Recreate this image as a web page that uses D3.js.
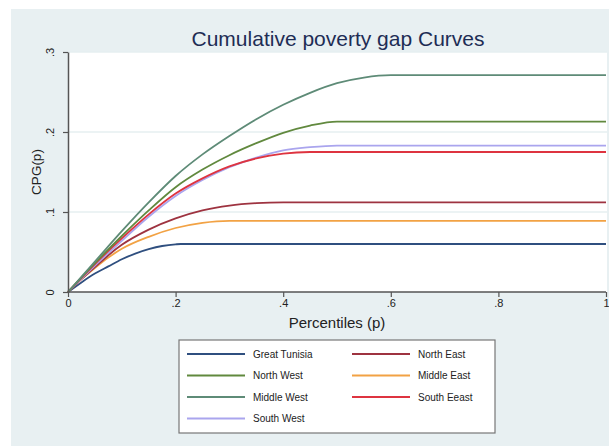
<!DOCTYPE html>
<html><head><meta charset="utf-8">
<script src="https://cdn.jsdelivr.net/npm/d3@7"></script>
<style>body{margin:0;background:#fff;}svg{display:block;font-family:"Liberation Sans",Arial,sans-serif;}</style>
</head><body>
<svg id="c" width="609" height="447"></svg>
<script>
const seriesNames = ["Great Tunisia","North East","North West","Middle East","Middle West","South Eeast","South West"];
const seriesColors = ["#2f4f7f","#9e3340","#61893e","#f2a244","#5e8b77","#de3440","#aaa5ee"];
const legendOrder = ["Great Tunisia","North East","North West","Middle East","Middle West","South Eeast","South West"];
const xTicks = [0,0.2,0.4,0.6,0.8,1];
const xTickLabels = ["0",".2",".4",".6",".8","1"];
const yTicks = [0,0.1,0.2,0.3];
const yTickLabels = ["0",".1",".2",".3"];

const pGreatTunisia = [0,0.025,0.05,0.075,0.1,0.125,0.15,0.175,0.2,0.21,1];
const vGreatTunisia = [0,0.012,0.023,0.032,0.041,0.048,0.0535,0.0575,0.0596,0.06,0.06];
const pNorthEast = [0,0.025,0.05,0.075,0.1,0.15,0.2,0.25,0.3,0.35,0.4,1];
const vNorthEast = [0,0.016,0.031,0.046,0.059,0.078,0.092,0.102,0.108,0.111,0.112,0.112];
const pNorthWest = [0,0.05,0.1,0.15,0.2,0.25,0.3,0.35,0.4,0.45,0.5,1];
const vNorthWest = [0,0.036,0.07,0.102,0.131,0.153,0.171,0.186,0.199,0.208,0.213,0.213];
const pMiddleEast = [0,0.025,0.05,0.075,0.1,0.15,0.2,0.25,0.3,1];
const vMiddleEast = [0,0.016,0.03,0.043,0.054,0.069,0.08,0.0865,0.089,0.089];
const pMiddleWest = [0,0.05,0.1,0.15,0.2,0.25,0.3,0.35,0.4,0.45,0.5,0.55,0.6,1];
const vMiddleWest = [0,0.038,0.076,0.112,0.145,0.172,0.195,0.216,0.234,0.249,0.261,0.268,0.271,0.271];
const pSouthEast = [0,0.05,0.1,0.15,0.2,0.25,0.3,0.35,0.4,0.45,1];
const vSouthEast = [0,0.035,0.067,0.097,0.123,0.142,0.157,0.167,0.173,0.175,0.175];
const pSouthWest = [0,0.05,0.1,0.15,0.2,0.25,0.3,0.35,0.4,0.45,0.5,1];
const vSouthWest = [0,0.033,0.064,0.094,0.12,0.14,0.156,0.168,0.177,0.181,0.183,0.183];

const seriesP = [pGreatTunisia,pNorthEast,pNorthWest,pMiddleEast,pMiddleWest,pSouthEast,pSouthWest];
const seriesV = [vGreatTunisia,vNorthEast,vNorthWest,vMiddleEast,vMiddleWest,vSouthEast,vSouthWest];

const svg = d3.select("#c");
const W = 609, H = 447;
const plot = {l:68, r:607, t:52, b:292};

svg.append("rect").attr("x",11).attr("y",9).attr("width",W-11).attr("height",437).attr("fill","#e8f0f2");
svg.append("rect").attr("x",plot.l).attr("y",plot.t).attr("width",plot.r-plot.l).attr("height",plot.b-plot.t).attr("fill","#fff");

const x = d3.scaleLinear().domain([0,1]).range([plot.l, 606]);
const y = d3.scaleLinear().domain([0,0.3]).range([plot.b, plot.t]);

// gridlines
svg.append("g").selectAll("line").data(yTicks.filter(d=>d>0)).join("line")
  .attr("x1",plot.l).attr("x2",plot.r).attr("y1",d=>y(d)).attr("y2",d=>y(d))
  .attr("stroke","#e6eff1").attr("stroke-width",1.5);

// title
svg.append("text").attr("x",338).attr("y",46).attr("text-anchor","middle")
  .attr("font-size",21).attr("fill","#1e2d55").text("Cumulative poverty gap Curves");

// lines
const line = d3.line().x(d=>x(d[0])).y(d=>y(d[1])).curve(d3.curveMonotoneX);
const drawOrder = [0,3,1,6,5,2,4];
drawOrder.forEach(i=>{
  const pts = seriesP[i].map((p,k)=>[p,seriesV[i][k]]);
  svg.append("path").datum(pts).attr("d",line).attr("fill","none")
    .attr("stroke",seriesColors[i]).attr("stroke-width",1.8);
});

// axes
const xAxis = d3.axisBottom(x).tickValues(xTicks).tickFormat((d,i)=>xTickLabels[i]).tickSize(5).tickSizeOuter(0);
const gx = svg.append("g").attr("transform",`translate(0,${plot.b})`).call(xAxis);
gx.select(".domain").attr("stroke","#555").attr("stroke-width",1.5).attr("d",`M${plot.l},0H${606}`);
gx.selectAll(".tick line").attr("stroke","#555").attr("stroke-width",1.2);
gx.selectAll(".tick text").attr("font-size",11).attr("fill","#222").attr("font-family","Liberation Sans, Arial, sans-serif").attr("dy","0.85em").attr("y",6);

const yAxis = d3.axisLeft(y).tickValues(yTicks).tickFormat((d,i)=>yTickLabels[i]).tickSize(5).tickSizeOuter(0);
const gy = svg.append("g").attr("transform",`translate(${plot.l},0)`).call(yAxis);
gy.select(".domain").attr("stroke","#555").attr("stroke-width",1.5);
gy.selectAll(".tick line").attr("stroke","#555").attr("stroke-width",1.2);
gy.selectAll(".tick text").attr("font-size",11).attr("fill","#222").attr("font-family","Liberation Sans, Arial, sans-serif")
  .attr("x",null).attr("dy",null).attr("text-anchor","middle")
  .attr("transform","translate(-14,0) rotate(-90)");

// axis titles
svg.append("text").attr("x",337).attr("y",328).attr("text-anchor","middle").attr("font-size",15).attr("fill","#222").text("Percentiles (p)");
svg.append("text").attr("transform","translate(41,172) rotate(-90)").attr("text-anchor","middle").attr("font-size",13.5).attr("fill","#222").text("CPG(p)");

// legend
const lg = svg.append("g");
lg.append("rect").attr("x",179).attr("y",340).attr("width",316).attr("height",93).attr("fill","#fff").attr("stroke","#777").attr("stroke-width",1.2);
legendOrder.forEach((name,j)=>{
  const i = seriesNames.indexOf(name);
  const col = j%2, row = Math.floor(j/2);
  const lx = col===0 ? 187 : 352;
  const ly = 354 + row*21.5;
  lg.append("line").attr("x1",lx).attr("x2",lx+58).attr("y1",ly).attr("y2",ly).attr("stroke",seriesColors[i]).attr("stroke-width",2);
  lg.append("text").attr("x",lx+66).attr("y",ly+3.5).attr("font-size",10).attr("fill","#222").text(name);
});
</script>
</body></html>
